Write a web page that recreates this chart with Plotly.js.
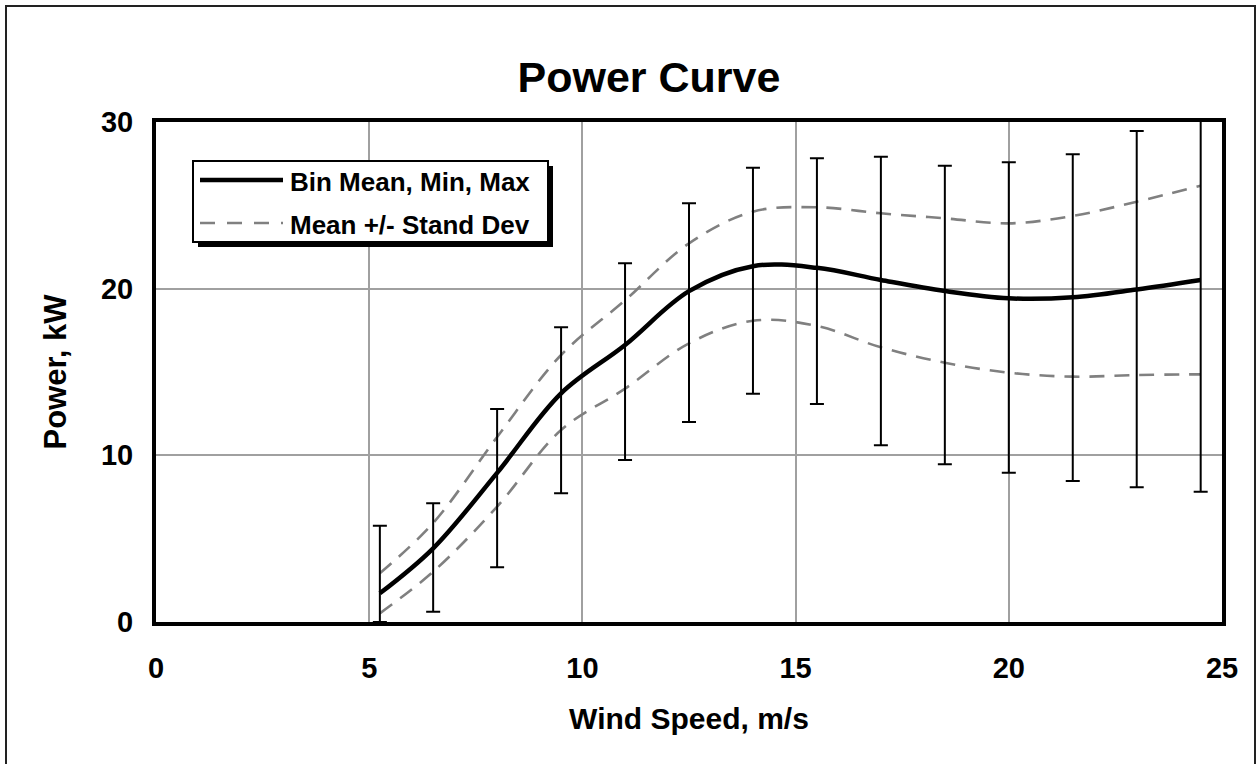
<!DOCTYPE html>
<html>
<head>
<meta charset="utf-8">
<script src="https://cdn.plot.ly/plotly-3.0.1.min.js"></script>
<style>
  html, body { margin: 0; padding: 0; background: #fff; overflow: hidden; }
  #chart { width: 1257px; height: 764px; }
</style>
</head>
<body>
<div id="chart"></div>
<script>
// ---- data ----
const windSpeed = [5.25, 6.5, 8, 9.5, 11, 12.5, 14, 15.5, 17, 18.5, 20, 21.5, 23, 24.5];
const binMean   = [1.72, 4.42, 8.95, 13.72, 16.62, 19.85, 21.35, 21.25, 20.52, 19.86, 19.42, 19.48, 19.95, 20.52];
const binMax    = [5.78, 7.12, 12.78, 17.68, 21.52, 25.12, 27.26, 27.82, 27.92, 27.38, 27.58, 28.06, 29.46, 30.4];
const binMin    = [0.0, 0.62, 3.28, 7.72, 9.72, 12.0, 13.7, 13.08, 10.6, 9.46, 8.96, 8.46, 8.08, 7.82];
const sdUpper   = [2.92, 5.94, 11.1, 16.02, 19.3, 22.72, 24.62, 24.88, 24.52, 24.22, 23.92, 24.36, 25.22, 26.18];
const sdLower   = [0.52, 3.02, 6.92, 11.52, 14.0, 16.72, 18.08, 17.76, 16.48, 15.56, 14.96, 14.72, 14.82, 14.86];
const xTicks = [0, 5, 10, 15, 20, 25];
const yTicks = [0, 10, 20, 30];
const legendLabels = ["Bin Mean, Min, Max", "Mean +/- Stand Dev"];

const errPlus  = binMax.map((v, i) => v - binMean[i]);
const errMinus = binMean.map((v, i) => v - binMin[i]);

// ---- layout geometry (pixels) ----
const W = 1257, H = 764;
const M = { l: 156, r: 35, t: 122, b: 142 };
const PW = W - M.l - M.r, PH = H - M.t - M.b;
const px = x => (x - M.l) / PW;          // pixel -> paper x
const py = y => (H - M.b - y) / PH;      // pixel -> paper y

const FONT = "Liberation Sans, Arial, Helvetica, sans-serif";
const GRAY = "#808080";

const traces = [
  {
    x: windSpeed, y: sdUpper, type: "scatter", mode: "lines",
    line: { color: GRAY, width: 2.6, dash: "15px,10px", shape: "spline", smoothing: 1 },
    hoverinfo: "skip", showlegend: false
  },
  {
    x: windSpeed, y: sdLower, type: "scatter", mode: "lines",
    line: { color: GRAY, width: 2.6, dash: "15px,10px", shape: "spline", smoothing: 1 },
    hoverinfo: "skip", showlegend: false
  },
  {
    x: windSpeed, y: binMean, type: "scatter", mode: "lines",
    line: { color: "#000", width: 4.5, shape: "spline", smoothing: 1 },
    error_y: { type: "data", symmetric: false, array: errPlus, arrayminus: errMinus,
               color: "#000", thickness: 2, width: 7 },
    showlegend: false
  }
];

const shapes = [
  // outer chart border
  { type: "rect", xref: "paper", yref: "paper", x0: px(6), x1: px(1255), y0: py(800), y1: py(6),
    line: { color: "#222", width: 2 }, fillcolor: "rgba(0,0,0,0)", layer: "above" },
  // legend shadow
  { type: "rect", xref: "paper", yref: "paper", x0: px(198), x1: px(553), y0: py(247), y1: py(166),
    line: { width: 0 }, fillcolor: "#000", layer: "above" },
  // legend box
  { type: "rect", xref: "paper", yref: "paper", x0: px(193), x1: px(548), y0: py(242), y1: py(161),
    line: { color: "#000", width: 2 }, fillcolor: "#fff", layer: "above" },
  // legend samples
  { type: "line", xref: "paper", yref: "paper", x0: px(200), x1: px(283), y0: py(180), y1: py(180),
    line: { color: "#000", width: 4.5 }, layer: "above" },
  { type: "line", xref: "paper", yref: "paper", x0: px(200), x1: px(283), y0: py(223), y1: py(223),
    line: { color: GRAY, width: 2.6, dash: "15px,12px" }, layer: "above" }
];

const annotations = [
  { xref: "paper", yref: "paper", x: px(288), y: py(182), xanchor: "left", yanchor: "middle",
    text: legendLabels[0], showarrow: false,
    font: { family: FONT, size: 26, color: "#000", weight: "bold" } },
  { xref: "paper", yref: "paper", x: px(288), y: py(225), xanchor: "left", yanchor: "middle",
    text: legendLabels[1], showarrow: false,
    font: { family: FONT, size: 26, color: "#000", weight: "bold" } }
];

const layout = {
  width: W, height: H,
  margin: M,
  paper_bgcolor: "#fff", plot_bgcolor: "#fff",
  showlegend: false,
  title: {
    text: "Power Curve",
    font: { family: FONT, size: 43, color: "#000", weight: "bold" },
    x: 649 / W, xref: "container", xanchor: "center",
    y: 1 - 77 / H, yref: "container", yanchor: "middle"
  },
  xaxis: {
    range: [0, 25], tickvals: xTicks, ticktext: xTicks.map(String),
    showgrid: true, gridcolor: "#a0a0a0", gridwidth: 2,
    zeroline: false, showline: true, linecolor: "#000", linewidth: 4, mirror: true,
    ticks: "", ticklabelstandoff: 17,
    tickfont: { family: FONT, size: 29, color: "#000", weight: "bold" },
    title: { text: "Wind Speed, m/s", standoff: 26,
             font: { family: FONT, size: 30, color: "#000", weight: "bold" } },
    automargin: false, fixedrange: true
  },
  yaxis: {
    range: [0, 30], tickvals: yTicks, ticktext: yTicks.map(String),
    showgrid: true, gridcolor: "#a0a0a0", gridwidth: 2,
    zeroline: false, showline: true, linecolor: "#000", linewidth: 4, mirror: true,
    ticks: "", ticklabelstandoff: 13,
    tickfont: { family: FONT, size: 29, color: "#000", weight: "bold" },
    title: { text: "Power, kW", standoff: 26,
             font: { family: FONT, size: 31, color: "#000", weight: "bold" } },
    automargin: false, fixedrange: true
  },
  shapes: shapes,
  annotations: annotations
};

Plotly.newPlot("chart", traces, layout, { staticPlot: true, displayModeBar: false });
</script>
</body>
</html>
